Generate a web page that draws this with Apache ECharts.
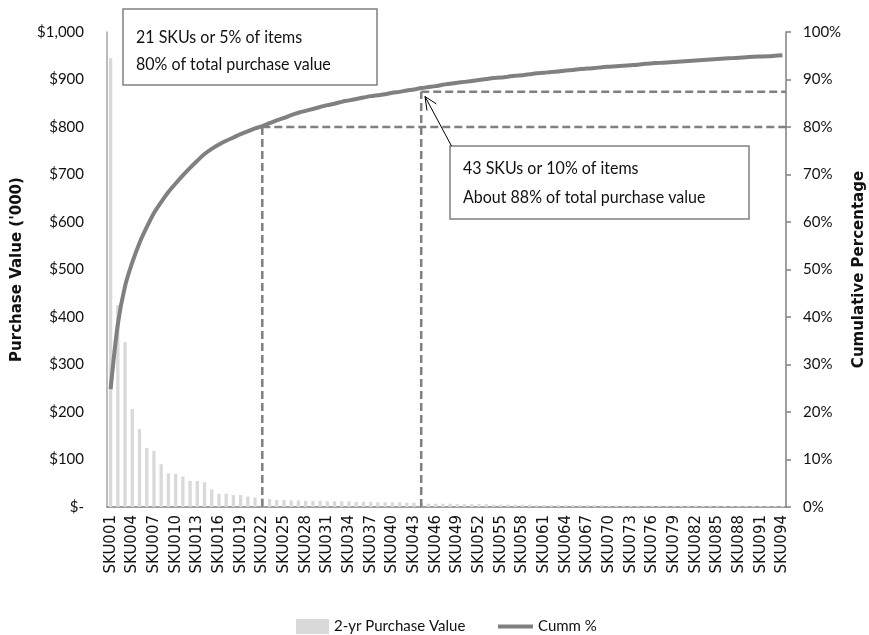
<!DOCTYPE html>
<html>
<head>
<meta charset="utf-8">
<script src="https://cdn.jsdelivr.net/npm/echarts@6/dist/echarts.min.js"></script>
<style>
  html, body { margin: 0; padding: 0; background: #fff; }
  #chart { width: 869px; height: 635px; }
</style>
</head>
<body>
<div id="chart"></div>
<script>
// SKU codes, ranked by two-year purchase value
const skuCount = 94;
const skus = Array.from({ length: skuCount }, (_, i) => 'SKU' + String(i + 1).padStart(3, '0'));

// 2-yr purchase value per SKU, in $'000
const purchaseValue = [
  945, 425, 347, 206, 164, 124, 118, 90, 71, 70,
  64, 55, 55, 52, 37, 28, 28, 25, 25, 22,
  20, 19, 17, 15, 15, 14, 14, 13, 13, 13,
  12, 12, 12, 12, 11, 11, 11, 10, 10, 10,
  10, 9, 9, 8, 7, 7, 7, 7, 6, 6,
  6, 6, 6, 5, 5, 5, 5, 5, 5, 4,
  4, 4, 4, 4, 4, 4, 4, 4, 4, 3,
  3, 3, 3, 3, 3, 3, 3, 3, 3, 3,
  3, 3, 3, 3, 3, 2, 2, 2, 2, 2,
  2, 2, 2, 2
];

// Cumulative share of total purchase value, in %
const cummPct = [
  24.8, 38.5, 46.5, 51.5, 55.6, 58.9, 61.9, 64.2, 66.3, 68.1,
  69.8, 71.4, 72.9, 74.3, 75.4, 76.3, 77.1, 77.8, 78.5, 79.1,
  79.7, 80.2, 80.8, 81.4, 81.9, 82.5, 83.0, 83.4, 83.8, 84.2,
  84.6, 84.9, 85.3, 85.6, 85.9, 86.2, 86.5, 86.7, 86.9, 87.2,
  87.4, 87.7, 87.9, 88.2, 88.4, 88.6, 88.9, 89.1, 89.3, 89.5,
  89.7, 89.9, 90.1, 90.3, 90.4, 90.6, 90.8, 90.9, 91.1, 91.3,
  91.4, 91.6, 91.7, 91.9, 92.0, 92.2, 92.3, 92.4, 92.6, 92.7,
  92.8, 92.9, 93.0, 93.1, 93.3, 93.4, 93.5, 93.6, 93.7, 93.8,
  93.9, 94.0, 94.1, 94.2, 94.3, 94.4, 94.5, 94.6, 94.7, 94.8,
  94.85, 94.9, 95.0, 95.1
];

// Cut-off guides: SKU rank and the cumulative % reached there
const cutoffRank = [22, 44];
const cutoffPct = [80, 87.4];

// Axis tick values
const valueTicks = [0, 100, 200, 300, 400, 500, 600, 700, 800, 900, 1000];
const pctTicks = [0, 10, 20, 30, 40, 50, 60, 70, 80, 90, 100];

// Call-out texts
const noteA = ['21 SKUs or 5% of items', '80% of total purchase value'];
const noteB = ['43 SKUs or 10% of items', 'About 88% of total purchase value'];

const GREY = '#808080';
const BODY_FONT = 'Lato';

// Dashed guide series on a hidden value x-axis (0..skuCount spans the plot)
const guideSeries = [];
cutoffRank.forEach((rank, k) => {
  const x = rank - 0.5;
  const pct = cutoffPct[k];
  const style = { color: GREY, width: 2.5, type: [8, 4] };
  guideSeries.push({
    type: 'line', xAxisIndex: 1, yAxisIndex: 1, silent: true,
    symbol: 'none', z: 2, lineStyle: style,
    data: [[x, 0], [x, pct]]
  });
  guideSeries.push({
    type: 'line', xAxisIndex: 1, yAxisIndex: 1, silent: true,
    symbol: 'none', z: 2, lineStyle: style,
    data: [[x, pct], [skuCount, pct]]
  });
});

function noteBox(x, y, w, h, lines, textX, lineY) {
  return [
    {
      type: 'rect', z: 20,
      shape: { x: x, y: y, width: w, height: h },
      style: { fill: '#fff', stroke: GREY, lineWidth: 1.5 }
    },
    ...lines.map((t, i) => ({
      type: 'text', z: 21, x: textX, y: lineY[i], scaleY: 1.12,
      style: { text: t, font: '16px ' + BODY_FONT, fill: '#111', verticalAlign: 'middle' }
    }))
  ];
}

const legendText = { fontFamily: BODY_FONT, fontSize: 15, color: '#111' };

const chart = echarts.init(document.getElementById('chart'), null, { renderer: 'canvas' });

chart.setOption({
  animation: false,
  backgroundColor: '#fff',
  grid: {
    left: 107, right: 83, top: 32, bottom: 128,
    containLabel: false, outerBoundsMode: 'none'
  },
  legend: [
    {
      data: ['2-yr Purchase Value'],
      left: 291, top: 614, itemWidth: 33, itemHeight: 15,
      icon: 'rect', textStyle: legendText
    },
    {
      data: ['Cumm %'],
      left: 493, top: 614, itemWidth: 35, itemHeight: 4,
      icon: 'rect', textStyle: legendText
    }
  ],
  xAxis: [
    {
      type: 'category', data: skus,
      axisLine: { lineStyle: { color: GREY, width: 1.5 } },
      axisTick: { show: false },
      axisLabel: {
        interval: 2, rotate: 90, margin: 8,
        fontFamily: 'DejaVu Sans', fontSize: 15, color: '#111'
      }
    },
    { type: 'value', min: 0, max: skuCount, show: false }
  ],
  yAxis: [
    {
      type: 'value', min: valueTicks[0], max: valueTicks[valueTicks.length - 1], interval: 100,
      name: "Purchase Value ('000)", nameLocation: 'middle', nameGap: 82, nameRotate: 90,
      nameTextStyle: { fontFamily: 'DejaVu Sans', fontWeight: 'bold', fontSize: 15, color: '#111' },
      axisLine: { show: true, lineStyle: { color: '#a6a6a6', width: 1.5 } },
      axisTick: { show: false },
      splitLine: { show: false },
      axisLabel: {
        margin: 23, fontFamily: BODY_FONT, fontSize: 15, color: '#111',
        formatter: v => v === 0 ? '$-' : '$' + v.toLocaleString('en-US')
      }
    },
    {
      type: 'value', min: pctTicks[0], max: pctTicks[pctTicks.length - 1], interval: 10,
      position: 'right',
      name: 'Cumulative Percentage', nameLocation: 'middle', nameGap: 65, nameRotate: 90,
      nameTextStyle: { fontFamily: 'DejaVu Sans', fontWeight: 'bold', fontSize: 15, color: '#111' },
      axisLine: { show: true, lineStyle: { color: GREY, width: 1.5 } },
      axisTick: { show: true, length: 5, lineStyle: { color: GREY, width: 1.5 } },
      splitLine: { show: false },
      axisLabel: {
        margin: 17, fontFamily: BODY_FONT, fontSize: 15, color: '#111',
        formatter: v => v + '%'
      }
    }
  ],
  series: [
    {
      name: '2-yr Purchase Value', type: 'bar', xAxisIndex: 0, yAxisIndex: 0,
      data: purchaseValue, barWidth: '46%', z: 1,
      itemStyle: { color: '#d9d9d9' }
    },
    ...guideSeries,
    {
      name: 'Cumm %', type: 'line', xAxisIndex: 0, yAxisIndex: 1,
      data: cummPct, symbol: 'none', smooth: 0.3, z: 5,
      lineStyle: { color: GREY, width: 4 },
      itemStyle: { color: GREY }
    }
  ],
  graphic: [
    ...noteBox(123, 9, 254, 76, noteA, 136, [37, 64]),
    ...noteBox(450, 146, 299, 73, noteB, 463, [168, 197]),
    {
      type: 'line', z: 22,
      shape: { x1: 451.5, y1: 146, x2: 425, y2: 96.5 },
      style: { stroke: '#000', lineWidth: 1 }
    },
    {
      type: 'polyline', z: 22,
      shape: { points: [[436.5, 104], [425, 96.5], [427, 110.5]] },
      style: { stroke: '#000', lineWidth: 1, fill: null }
    }
  ]
});
</script>
</body>
</html>
